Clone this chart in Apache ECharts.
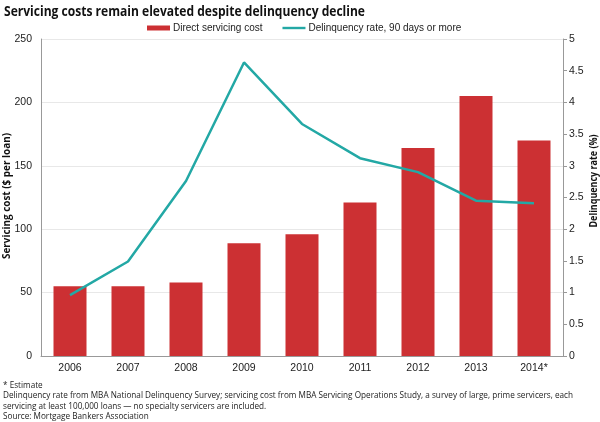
<!DOCTYPE html>
<html>
<head>
    <meta charset="utf-8" />
    <title>Servicing costs remain elevated despite delinquency decline</title>
    <script src="https://cdn.jsdelivr.net/npm/echarts@6/dist/echarts.min.js"></script>
    <style>
        body { margin: 0; background: #fff; }
    </style>
</head>
<body>
    <div id="main" style="width: 600px;height:422px;"></div>
    <script type="text/javascript">
        // data
        var years = ['2006', '2007', '2008', '2009', '2010', '2011', '2012', '2013', '2014*'];
        var servicingCost = [55, 55, 58, 89, 96, 121, 164, 205, 170];
        var delinquencyRate = [0.96, 1.49, 2.76, 4.63, 3.66, 3.12, 2.9, 2.45, 2.41];
        var notes = [
            '* Estimate',
            'Delinquency rate from MBA National Delinquency Survey; servicing cost from MBA Servicing Operations Study, a survey of large, prime servicers, each',
            'servicing at least 100,000 loans \u2014 no specialty servicers are included.',
            'Source: Mortgage Bankers Association'
        ];

        var humanist = '"Open Sans", "Noto Sans", sans-serif';
        var plain = '"Liberation Sans", Arial, sans-serif';

        // the original font is condensed: squeeze text so it spans the same width
        var measureCtx = document.createElement('canvas').getContext('2d');
        function fitScale(text, font, target) {
            measureCtx.font = font;
            return target / measureCtx.measureText(text).width;
        }

        var titleText = 'Servicing costs remain elevated despite delinquency decline';
        var titleFont = 'bold 14px ' + humanist;
        var leftName = 'Servicing cost ($ per loan)';
        var rightName = 'Delinquency rate (%)';
        var nameFont = 'bold 10.5px ' + humanist;
        var noteFont = '9px ' + humanist;
        var noteScale = fitScale(notes[1], noteFont, 570);

        var myChart = echarts.init(document.getElementById('main'));

        var graphics = [
            {
                type: 'text', x: 4, y: 12, scaleX: fitScale(titleText, titleFont, 361),
                style: { text: titleText, font: titleFont, fill: '#111', verticalAlign: 'middle' }
            },
            {
                type: 'text', x: 7, y: 196, rotation: Math.PI / 2, scaleX: fitScale(leftName, nameFont, 126),
                style: { text: leftName, font: nameFont, fill: '#111', align: 'center', verticalAlign: 'middle' }
            },
            {
                type: 'text', x: 594, y: 181, rotation: Math.PI / 2, scaleX: fitScale(rightName, nameFont, 93),
                style: { text: rightName, font: nameFont, fill: '#111', align: 'center', verticalAlign: 'middle' }
            }
        ];
        var noteY = [385, 395.5, 406, 416.5];
        for (var i = 0; i < notes.length; i++) {
            graphics.push({
                type: 'text', x: 3, y: noteY[i], scaleX: noteScale,
                style: { text: notes[i], font: noteFont, fill: '#222', verticalAlign: 'middle' }
            });
        }

        var option = {
            animation: false,
            textStyle: { fontFamily: plain },
            grid: { left: 41, right: 37, top: 39, bottom: 66 },
            legend: {
                left: 142, top: 18,
                itemWidth: 23, itemHeight: 5, itemGap: 20,
                textStyle: { fontSize: 10, color: '#222', padding: [0, 0, 0, -2] },
                data: [
                    { name: 'Direct servicing cost', icon: 'rect' },
                    { name: 'Delinquency rate, 90 days or more', icon: 'path://M0,0 L24,0 L24,2.5 L0,2.5 Z' }
                ]
            },
            xAxis: {
                type: 'category',
                data: years,
                axisLine: { lineStyle: { color: '#999' } },
                axisTick: { show: false },
                axisLabel: { color: '#222', fontSize: 10.5, margin: 7 }
            },
            yAxis: [
                {
                    type: 'value', min: 0, max: 250, interval: 50,
                    axisLine: { show: true, lineStyle: { color: '#999' } },
                    axisTick: { show: false },
                    axisLabel: { color: '#222', fontSize: 10.5, margin: 9 },
                    splitLine: { lineStyle: { color: '#e8e8e8' } }
                },
                {
                    type: 'value', min: 0, max: 5, interval: 0.5,
                    axisLine: { show: true, lineStyle: { color: '#999' } },
                    axisTick: { show: true, length: 4, lineStyle: { color: '#999' } },
                    axisLabel: { color: '#222', fontSize: 10.5, margin: 6 },
                    splitLine: { show: false }
                }
            ],
            series: [
                {
                    name: 'Direct servicing cost',
                    type: 'bar',
                    barWidth: 33,
                    itemStyle: { color: '#cc3033' },
                    data: servicingCost
                },
                {
                    name: 'Delinquency rate, 90 days or more',
                    type: 'line',
                    yAxisIndex: 1,
                    symbol: 'none',
                    lineStyle: { color: '#23a8a5', width: 2.5 },
                    itemStyle: { color: '#23a8a5' },
                    data: delinquencyRate
                }
            ],
            graphic: graphics
        };
        myChart.setOption(option);
    </script>
</body>
</html>
